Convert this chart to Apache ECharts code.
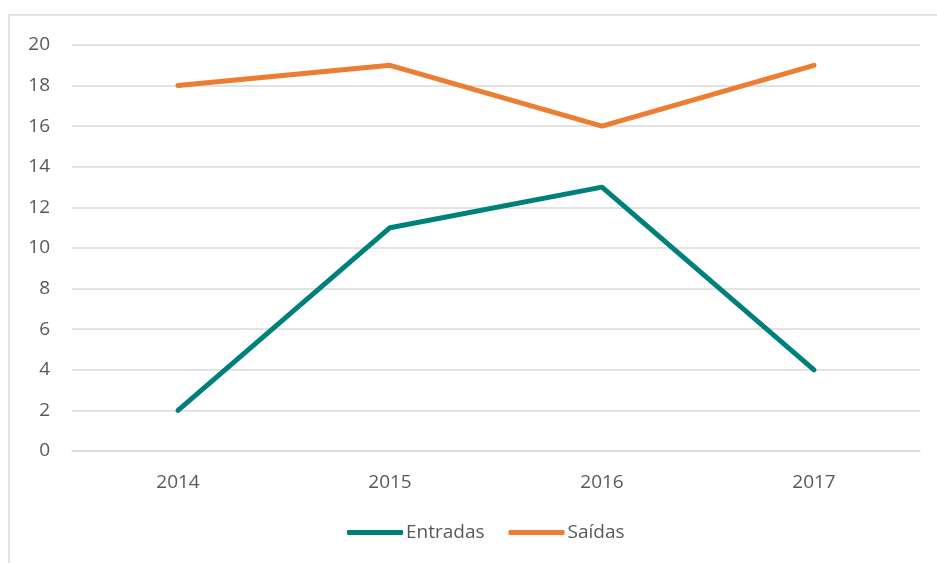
<!DOCTYPE html>
<html>
<head>
<meta charset="utf-8">
<script src="https://cdn.jsdelivr.net/npm/echarts@6/dist/echarts.min.js"></script>
<style>
  html, body { margin: 0; padding: 0; background: #fff; }
  #chart { width: 937px; height: 563px; }
</style>
</head>
<body>
<div id="chart"></div>
<script>
// chart data
var years = ['2014', '2015', '2016', '2017'];
var entradas = [2, 11, 13, 4];
var saidas = [18, 19, 16, 19];

var chart = echarts.init(document.getElementById('chart'));
var textColor = '#595959';
var font = '"Open Sans", "Liberation Sans", sans-serif';

chart.setOption({
    animation: false,
    // the outer frame, partly cut off on the right and bottom
    graphic: [{
        type: 'rect',
        shape: { x: 9, y: 15, width: 960, height: 600 },
        style: { fill: 'none', stroke: '#d9d9d9', lineWidth: 1.5 },
        silent: true
    }],
    grid: { left: 72, right: 17, top: 45, bottom: 112 },
    legend: {
        bottom: 16,
        left: 342,
        itemWidth: 56,
        itemHeight: 5,
        itemGap: 24,
        icon: 'roundRect',
        textStyle: { color: textColor, fontSize: 19, fontFamily: font, padding: [0, 0, 0, -2] },
        data: ['Entradas', 'Saídas']
    },
    xAxis: {
        type: 'category',
        data: years,
        boundaryGap: true,
        axisLine: { show: true, lineStyle: { color: '#d9d9d9', width: 1.5 } },
        axisTick: { show: false },
        axisLabel: { color: textColor, fontSize: 19, fontFamily: font, margin: 22 }
    },
    yAxis: {
        type: 'value',
        min: 0,
        max: 20,
        interval: 2,
        axisLine: { show: false },
        axisTick: { show: false },
        axisLabel: { color: textColor, fontSize: 19, fontFamily: font, margin: 22 },
        splitLine: { lineStyle: { color: '#d9d9d9', width: 1.5 } }
    },
    series: [{
        name: 'Entradas',
        type: 'line',
        data: entradas,
        showSymbol: false,
        lineStyle: { color: '#00807b', width: 5, cap: 'round' },
        itemStyle: { color: '#00807b' }
    }, {
        name: 'Saídas',
        type: 'line',
        data: saidas,
        showSymbol: false,
        lineStyle: { color: '#ed7d31', width: 5, cap: 'round' },
        itemStyle: { color: '#ed7d31' }
    }]
});
</script>
</body>
</html>
